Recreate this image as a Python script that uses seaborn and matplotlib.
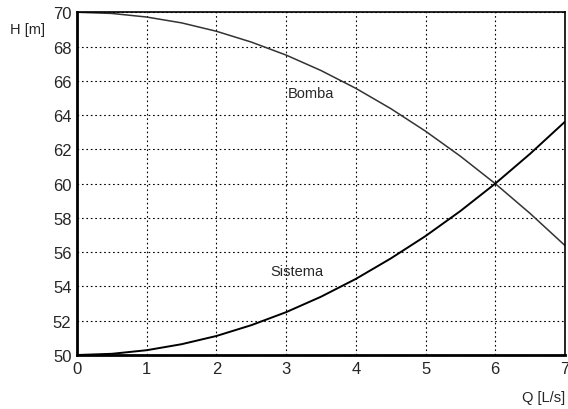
import matplotlib
matplotlib.use("Agg")
import matplotlib.pyplot as plt
import seaborn as sns
import pandas as pd

q = [0, 0.5, 1, 1.5, 2, 2.5, 3, 3.5, 4, 4.5, 5, 5.5, 6, 6.5, 7]
h_bomba = [70.0, 69.93, 69.72, 69.38, 68.89, 68.26, 67.5, 66.6, 65.56,
           64.38, 63.06, 61.6, 60.0, 58.26, 56.39]
h_sistema = [50.0, 50.07, 50.28, 50.63, 51.11, 51.74, 52.5, 53.4, 54.44,
             55.63, 56.94, 58.4, 60.0, 61.74, 63.61]

df = pd.DataFrame({"Q": q, "Bomba": h_bomba, "Sistema": h_sistema})

sns.set_style("white")
plt.rcParams["font.family"] = ["Liberation Sans", "DejaVu Sans"]

fig = plt.figure(figsize=(5.68, 4.10), dpi=100)
ax = fig.add_axes([0.1356, 0.1317, 0.859, 0.836])

sns.lineplot(data=df, x="Q", y="Bomba", color="#333333", lw=1.1, ax=ax)
sns.lineplot(data=df, x="Q", y="Sistema", color="black", lw=1.4, ax=ax)

ax.set_xlim(0, 7)
ax.set_ylim(50, 70)
ax.set_xticks(range(0, 8))
ax.set_yticks(range(50, 71, 2))
ax.grid(True, color="black", ls=(0, (1.5, 2.5)), lw=0.8)
ax.tick_params(length=0, labelsize=12, pad=4)
for s in ax.spines.values():
    s.set_color("black")
    s.set_linewidth(1.2)
ax.spines["left"].set_linewidth(2)
ax.spines["bottom"].set_linewidth(2)
ax.set_xlabel("")
ax.set_ylabel("")

ax.text(3.03, 65.3, "Bomba", fontsize=10.5, va="center", ha="left")
ax.text(2.77, 54.9, "Sistema", fontsize=10.5, va="center", ha="left")
fig.text(10 / 568, 1 - 30 / 410, "H [m]", fontsize=10.5, va="center", ha="left")
fig.text(565 / 568, 1 - 398 / 410, "Q [L/s]", fontsize=10.5, va="center", ha="right")

fig.savefig("out.png", dpi=100)
